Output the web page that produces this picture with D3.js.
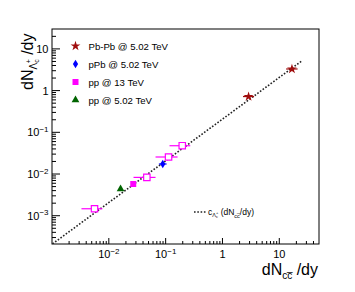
<!DOCTYPE html>
<html>
<head>
<meta charset="utf-8">
<script src="https://cdn.jsdelivr.net/npm/d3@7"></script>
<style>
body { margin: 0; background: #fff; }
text { font-family: "Liberation Sans", Arial, sans-serif; }
</style>
</head>
<body>
<div id="chart"></div>
<script>
// Pb-Pb @ 5.02 TeV
const pbpbX = [2.88, 16.7];
const pbpbY = [0.72, 3.3];
const pbpbXLo = [2.3, 13.2];
const pbpbXHi = [3.6, 21.0];
// pPb @ 5.02 TeV
const ppbX = [0.089];
const ppbY = [0.0174];
const ppbXLo = [0.076];
const ppbXHi = [0.104];
// pp @ 13 TeV (measured)
const pp13X = [0.0269];
const pp13Y = [0.00576];
// pp @ 13 TeV (open squares, multiplicity classes)
const pp13mX = [0.0056, 0.0467, 0.1125, 0.196];
const pp13mY = [0.00147, 0.0083, 0.0256, 0.0477];
const pp13mXLo = [0.0033, 0.0272, 0.0664, 0.117];
const pp13mXHi = [0.0077, 0.0664, 0.162, 0.271];
// pp @ 5.02 TeV
const pp5X = [0.0161];
const pp5Y = [0.00437];
// c * dN/dy fit
const fitC = 0.207;
const fitRange = [1.02e-3, 25];

const legendLabels = ['Pb-Pb @ 5.02 TeV', 'pPb @ 5.02 TeV', 'pp @ 13 TeV', 'pp @ 5.02 TeV'];
const xLabelExp = [-2, -1, 0, 1];
const yLabelExp = [-3, -2, -1, 0, 1];

const width = 355, height = 292;
const frame = {left: 52, right: 319, top: 29, bottom: 244};
const colRed = '#a00d0d', colBlue = '#0000ff', colMag = '#ff00ff', colGreen = '#006400';

const svg = d3.select('#chart').append('svg')
    .attr('width', width)
    .attr('height', height);

const x = d3.scaleLog().domain([1e-3, 50]).range([frame.left, frame.right]);
const y = d3.scaleLog().domain([2.1e-4, 30]).range([frame.bottom, frame.top]);

svg.append('defs').append('clipPath').attr('id', 'clip')
    .append('rect')
    .attr('x', frame.left).attr('y', frame.top)
    .attr('width', frame.right - frame.left).attr('height', frame.bottom - frame.top);

// frame
svg.append('rect')
    .attr('x', frame.left).attr('y', frame.top)
    .attr('width', frame.right - frame.left).attr('height', frame.bottom - frame.top)
    .attr('fill', 'none').attr('stroke', '#000').attr('stroke-width', 1);

const isMajor = v => Math.abs(Math.log10(v) - Math.round(Math.log10(v))) < 1e-6;

// x ticks
svg.append('g').selectAll('line')
    .data(x.ticks().filter(v => v > x.domain()[0] && v < x.domain()[1]))
    .enter().append('line')
    .attr('x1', d => x(d)).attr('x2', d => x(d))
    .attr('y1', frame.bottom)
    .attr('y2', d => frame.bottom - (isMajor(d) ? 6 : 3))
    .attr('stroke', '#000');

// y ticks
svg.append('g').selectAll('line')
    .data(y.ticks().filter(v => v > y.domain()[0] && v < y.domain()[1]))
    .enter().append('line')
    .attr('y1', d => y(d)).attr('y2', d => y(d))
    .attr('x1', frame.left)
    .attr('x2', d => frame.left + (isMajor(d) ? 8 : 4))
    .attr('stroke', '#000');

function powLabel(sel, e) {
    if (e === 0) { sel.text('1'); return; }
    if (e === 1) { sel.text('10'); return; }
    sel.append('tspan').text('10');
    sel.append('tspan').attr('dy', -4.5).attr('font-size', '8px').text('\u2212' + (-e));
}

// x labels
xLabelExp.forEach(e => {
    const t = svg.append('text')
        .attr('x', x(Math.pow(10, e)))
        .attr('y', 258)
        .attr('font-size', '11px')
        .attr('text-anchor', 'middle');
    powLabel(t, e);
});

// y labels
yLabelExp.forEach(e => {
    const t = svg.append('text')
        .attr('x', 48.5)
        .attr('y', y(Math.pow(10, e)) + 4)
        .attr('font-size', '11px')
        .attr('text-anchor', 'end');
    powLabel(t, e);
});

// axis titles
const yt = svg.append('text')
    .attr('transform', 'translate(33,90) rotate(-90)')
    .attr('font-size', '16px');
yt.append('tspan').text('dN');
yt.append('tspan').attr('font-size', '10px').attr('dy', 4).text('\u039B');
yt.append('tspan').attr('font-size', '7px').attr('dy', 2).text('c');
yt.append('tspan').attr('font-size', '7px').attr('dx', -4).attr('dy', -8).text('+');
yt.append('tspan').attr('dy', 2).text(' /dy');

const xt = svg.append('text')
    .attr('x', 318).attr('y', 275)
    .attr('font-size', '16px')
    .attr('text-anchor', 'end');
xt.append('tspan').text('dN');
xt.append('tspan').attr('font-size', '10px').attr('dy', 4).text('c\u0063\u0305');
xt.append('tspan').attr('dy', -4).text(' /dy');

// fit line
const fitPts = d3.range(0, 41).map(i => {
    const lx = Math.log10(fitRange[0]) + i / 40 * (Math.log10(fitRange[1]) - Math.log10(fitRange[0]));
    return Math.pow(10, lx);
});
svg.append('path')
    .datum(fitPts)
    .attr('clip-path', 'url(#clip)')
    .attr('d', d3.line().x(d => x(d)).y(d => y(fitC * d)))
    .attr('fill', 'none')
    .attr('stroke', '#222')
    .attr('stroke-width', 1.6)
    .attr('stroke-dasharray', '1.6 1.7');

const plot = svg.append('g').attr('clip-path', 'url(#clip)');

function hbars(xs, ys, lo, hi, color) {
    plot.append('g').selectAll('line')
        .data(xs.map((d, i) => ({y: ys[i], lo: lo[i], hi: hi[i]})))
        .enter().append('line')
        .attr('x1', d => x(d.lo)).attr('x2', d => x(d.hi))
        .attr('y1', d => y(d.y)).attr('y2', d => y(d.y))
        .attr('stroke', color).attr('stroke-width', 1.2);
}

const starPath = d3.symbol().type(d3.symbolStar).size(30)();
const diamondPath = 'M0,-4.2L2.6,0L0,4.2L-2.6,0Z';
const triPath = d3.symbol().type(d3.symbolTriangle).size(26)();

function markers(xs, ys, path, fill, stroke) {
    plot.append('g').selectAll('path')
        .data(xs.map((d, i) => [d, ys[i]]))
        .enter().append('path')
        .attr('transform', d => `translate(${x(d[0])},${y(d[1])})`)
        .attr('d', path)
        .attr('fill', fill)
        .attr('stroke', stroke || 'none')
        .attr('stroke-width', 1.2);
}

hbars(pbpbX, pbpbY, pbpbXLo, pbpbXHi, colRed);
hbars(ppbX, ppbY, ppbXLo, ppbXHi, colBlue);
hbars(pp13mX, pp13mY, pp13mXLo, pp13mXHi, colMag);

markers(pbpbX, pbpbY, starPath, colRed);
markers(ppbX, ppbY, diamondPath, colBlue);
markers(pp13X, pp13Y, 'M-3,-3H3V3H-3Z', colMag);
markers(pp13mX, pp13mY, 'M-3.2,-3.2H3.2V3.2H-3.2Z', '#fff', colMag);
markers(pp5X, pp5Y, triPath, colGreen);

// legend
const legendPaths = [starPath, diamondPath, 'M-3,-3H3V3H-3Z', triPath];
const legendCols = [colRed, colBlue, colMag, colGreen];
const legendY = [46, 64, 82, 100];
legendLabels.forEach((lab, i) => {
    svg.append('path')
        .attr('transform', `translate(75.5,${legendY[i]})`)
        .attr('d', legendPaths[i])
        .attr('fill', legendCols[i]);
    svg.append('text')
        .attr('x', 88.5).attr('y', legendY[i] + 3.5)
        .attr('font-size', '9.6px')
        .text(lab);
});

// fit legend
svg.append('line')
    .attr('x1', 194).attr('x2', 206).attr('y1', 212).attr('y2', 212)
    .attr('stroke', '#222').attr('stroke-width', 1.6)
    .attr('stroke-dasharray', '1.6 1.7');
const ft = svg.append('text')
    .attr('x', 208).attr('y', 214.5)
    .attr('font-size', '8.5px');
ft.append('tspan').text('c');
ft.append('tspan').attr('font-size', '5.5px').attr('dy', 2).text('\u039B');
ft.append('tspan').attr('font-size', '4px').attr('dy', 1).text('c');
ft.append('tspan').attr('font-size', '4px').attr('dx', -2).attr('dy', -4).text('+');
ft.append('tspan').attr('dy', 1).text(' (dN');
ft.append('tspan').attr('font-size', '5.5px').attr('dy', 3).text('c\u0063\u0305');
ft.append('tspan').attr('dy', -3).text('/dy)');
</script>
</body>
</html>
